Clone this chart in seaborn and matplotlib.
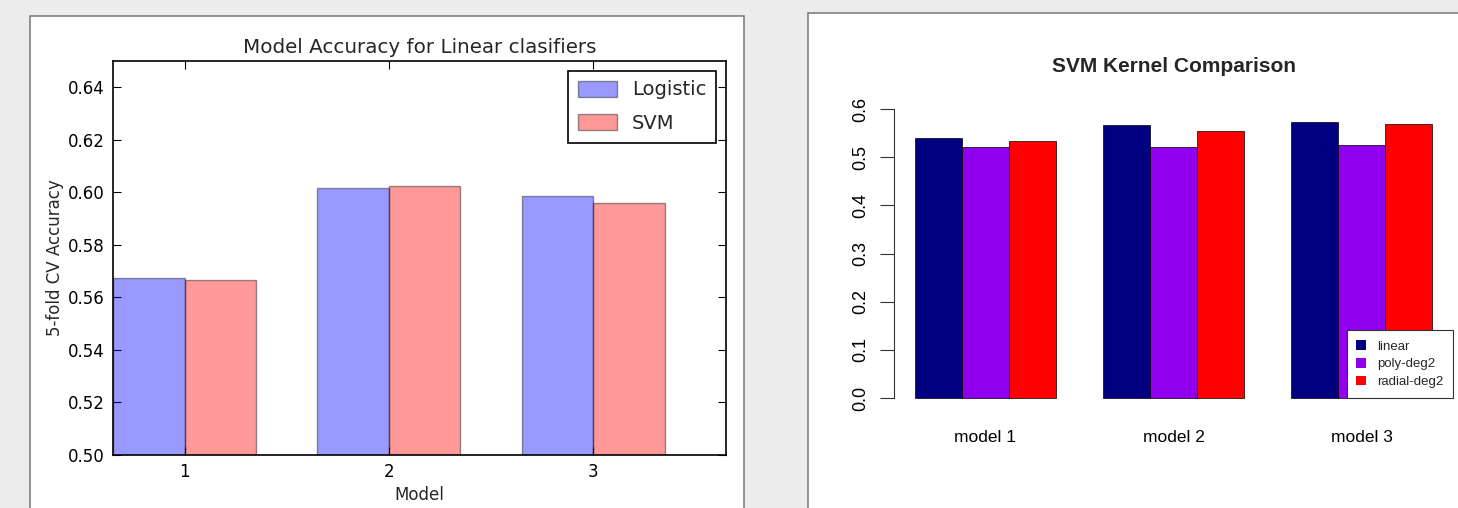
import matplotlib
matplotlib.use('Agg')
import matplotlib.pyplot as plt
from matplotlib.patches import Rectangle
import seaborn as sns
import pandas as pd

# left chart: linear classifiers
models = ['1', '2', '3']
logistic_acc = [0.5673, 0.6018, 0.5985]
svm_acc = [0.5665, 0.6025, 0.5958]
lin_names = ['Logistic', 'SVM']
lin_colors = ['blue', 'red']

# right chart: SVM kernels
kernel_models = ['model 1', 'model 2', 'model 3']
linear_acc = [0.540, 0.567, 0.573]
poly_acc = [0.521, 0.521, 0.525]
radial_acc = [0.533, 0.555, 0.568]
kernel_names = ['linear', 'poly-deg2', 'radial-deg2']
kernel_colors = ['#000080', '#9000EE', '#FF0000']

lin_df = pd.DataFrame({
    'Model': models * 2,
    'acc': logistic_acc + svm_acc,
    'clf': [lin_names[0]] * 3 + [lin_names[1]] * 3,
})
ker_df = pd.DataFrame({
    'Model': kernel_models * 3,
    'acc': linear_acc + poly_acc + radial_acc,
    'kernel': [k for k in kernel_names for _ in range(3)],
})

sns.set_style('white')
plt.rcParams['font.family'] = ['DejaVu Sans']

W, H = 1458, 508
fig = plt.figure(figsize=(W / 100, H / 100), dpi=100, facecolor='#ececec')

# white panels behind each chart
fig.patches.append(Rectangle((30 / W, -0.02), 714 / W, (H - 16) / H + 0.02,
                             transform=fig.transFigure, facecolor='white',
                             edgecolor='#808080', lw=1.2, zorder=-5))
fig.patches.append(Rectangle((808 / W, -0.02), 0.5, (H - 13) / H + 0.02,
                             transform=fig.transFigure, facecolor='white',
                             edgecolor='#808080', lw=1.2, zorder=-5))

# ---- left: matplotlib classic look ----
ax1 = fig.add_axes([113 / W, 53 / H, 613 / W, 394 / H])
ax1.set_facecolor('white')
sns.barplot(data=lin_df, x='Model', y='acc', hue='clf', palette=lin_colors,
            saturation=1, alpha=0.4, width=0.7, edgecolor='black',
            linewidth=1, ax=ax1)
ax1.set_xlim(-0.35, 2.65)
ax1.set_ylim(0.50, 0.65)
ax1.set_yticks([0.50, 0.52, 0.54, 0.56, 0.58, 0.60, 0.62, 0.64])
ax1.set_yticklabels(['%.2f' % v for v in ax1.get_yticks()])
ax1.tick_params(direction='in', length=6, width=0.8, labelsize=12,
                top=True, right=True, bottom=True, left=True, pad=6, colors='black')
for s in ax1.spines.values():
    s.set_visible(True)
    s.set_color('black')
    s.set_linewidth(1.2)
ax1.set_xlabel('Model', fontsize=12, labelpad=3)
ax1.set_ylabel('5-fold CV Accuracy', fontsize=12, labelpad=3)
ax1.set_title('Model Accuracy for Linear clasifiers', fontsize=14.3, pad=6)
leg = ax1.legend(loc='upper right', fontsize=14, frameon=True, fancybox=False,
                 edgecolor='black', framealpha=1, borderaxespad=0.5,
                 handlelength=2.0, handleheight=0.9, labelspacing=0.75,
                 handletextpad=0.8, borderpad=0.5)
leg.get_frame().set_linewidth(1.2)

# ---- right: R barplot look ----
rfont = ['Liberation Sans', 'DejaVu Sans']
ax2 = fig.add_axes([894 / W, (H - 409.6) / H, 559 / W, 312.2 / H])
ax2.set_facecolor('white')
sns.barplot(data=ker_df, x='Model', y='acc', hue='kernel', palette=kernel_colors,
            saturation=1, width=0.75, edgecolor='black', linewidth=0.5, ax=ax2)
ax2.set_xlim(-0.485, 2.485)
ax2.set_ylim(-0.024, 0.624)
ax2.set_yticks([0.0, 0.1, 0.2, 0.3, 0.4, 0.5, 0.6])
ax2.set_yticklabels(['%.1f' % v for v in ax2.get_yticks()], rotation=90,
                    va='center', family=rfont, fontsize=13)
ax2.set_xticks([0, 1, 2])
ax2.set_xticklabels(kernel_models, family=rfont, fontsize=12.5)
for side in ['top', 'right', 'bottom']:
    ax2.spines[side].set_visible(False)
ax2.spines['left'].set_bounds(0, 0.6)
ax2.spines['left'].set_color('#333333')
ax2.spines['left'].set_linewidth(0.8)
ax2.tick_params(axis='y', direction='out', length=10, width=0.8, pad=8, colors='#333333', labelcolor='black', left=True)
ax2.tick_params(axis='x', length=0, pad=15, colors='black')
ax2.set_xlabel('')
ax2.set_ylabel('')
ax2.set_title('SVM Kernel Comparison', fontsize=15, fontweight='bold',
              family=rfont, pad=18)
leg2 = ax2.legend(loc='lower right', prop={'family': rfont, 'size': 9.5},
                  frameon=True, fancybox=False, edgecolor='#333333', framealpha=1,
                  borderaxespad=0, bbox_to_anchor=(1.0, 0.037),
                  handlelength=0.75, handleheight=0.75, handletextpad=0.8,
                  labelspacing=0.4, borderpad=0.75)
leg2.get_frame().set_linewidth(0.8)
for h in leg2.legend_handles:
    h.set_edgecolor('none')

fig.savefig('out.png', dpi=100, facecolor=fig.get_facecolor())
